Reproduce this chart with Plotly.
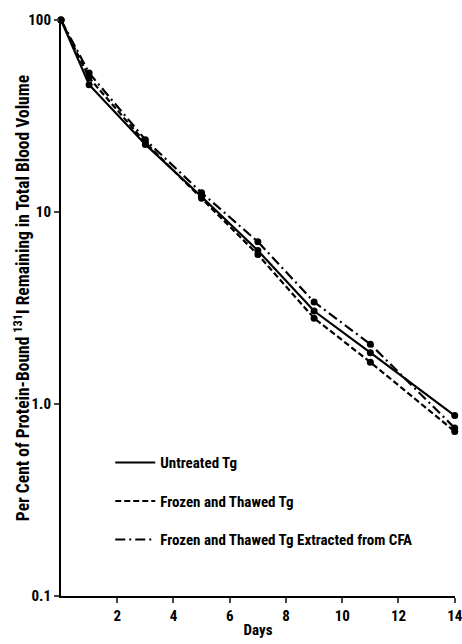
import plotly.graph_objects as go

days = [0, 1, 3, 5, 7, 9, 11, 14]
untreated = [100, 46, 22.5, 12.0, 6.3, 3.05, 1.85, 0.87]
frozen = [100, 50, 23.0, 11.8, 6.0, 2.8, 1.65, 0.72]
frozen_cfa = [100, 53, 23.8, 12.6, 7.0, 3.4, 2.05, 0.75]

names = ["Untreated Tg", "Frozen and Thawed Tg", "Frozen and Thawed Tg Extracted from CFA"]
dashes = ["solid", "6px,3px", "10px,4px,2px,4px"]
series = [untreated, frozen, frozen_cfa]

y_tickvals = [0.1, 1, 10, 100]
y_ticktext = ["0.1", "1.0", "10", "100"]
x_tickvals = [2, 4, 6, 8, 10, 12, 14]
y_title = "Per Cent of Protein-Bound <sup>131</sup>I Remaining in Total Blood Volume"

FONT = "Roboto Condensed, Open Sans Condensed, sans-serif"

fig = go.Figure()
for i, (nm, ds, ys) in enumerate(zip(names, dashes, series)):
    fig.add_trace(go.Scatter(x=days, y=ys, mode="lines", name=nm,
                             line=dict(color="black", width=2.2, dash=ds),
                             legendgroup=f"g{i}", showlegend=True, cliponaxis=False))
    fig.add_trace(go.Scatter(x=days, y=ys, mode="markers", showlegend=False,
                             marker=dict(color="black", size=7),
                             legendgroup=f"g{i}", hoverinfo="skip", cliponaxis=False))

fig.update_layout(
    width=462, height=644,
    margin=dict(l=61, r=7, t=20, b=48),
    paper_bgcolor="white", plot_bgcolor="white",
    font=dict(family=FONT, size=14, color="black"),
    legend=dict(x=0.125, y=0.26, xanchor="left", yanchor="top",
                bgcolor="rgba(0,0,0,0)", tracegroupgap=16,
                font=dict(family=FONT, size=15, color="black", weight="bold"),
                itemwidth=40),
)
fig.add_annotation(text=y_title, xref="paper", yref="paper", x=-0.099, y=0.517,
                   xanchor="center", yanchor="middle", textangle=-90, showarrow=False,
                   font=dict(family=FONT, size=17.5, weight="bold", color="black"))
fig.update_xaxes(range=[0, 14.01], tickvals=x_tickvals, ticks="outside", ticklen=5,
                 tickwidth=2, showline=True, linecolor="black", linewidth=2,
                 showgrid=False, zeroline=False, automargin=False,
                 ticklabeloverflow="allow",
                 tickfont=dict(family=FONT, size=15, weight="bold"),
                 title=dict(text="Days", standoff=0,
                            font=dict(family=FONT, size=15, weight="bold")))
fig.update_yaxes(type="log", range=[-1, 2], tickvals=y_tickvals, ticktext=y_ticktext,
                 ticks="outside", ticklen=5, tickwidth=2, showline=True,
                 linecolor="black", linewidth=2, showgrid=False, zeroline=False,
                 automargin=False, ticklabeloverflow="allow",
                 tickfont=dict(family=FONT, size=15, weight="bold"))

fig.write_html("out.html", config={"displayModeBar": False},
               post_script="document.body.style.margin='0';")
